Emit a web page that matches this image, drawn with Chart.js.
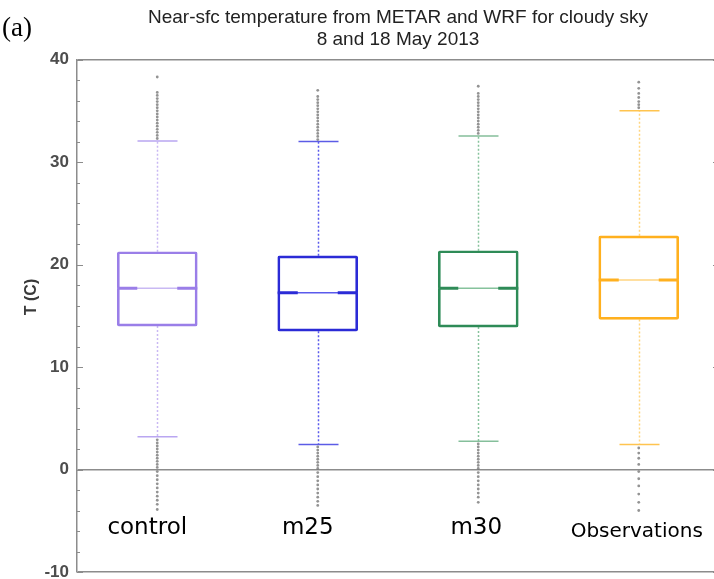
<!DOCTYPE html>
<html>
<head>
<meta charset="utf-8">
<script src="https://cdn.jsdelivr.net/npm/chart.js@4.4.1/dist/chart.umd.min.js"></script>
<style>
    html, body { margin: 0; padding: 0; background: #fff; overflow: hidden; }
    #wrap { position: relative; width: 724px; height: 579px; }
</style>
</head>
<body>
<div id="wrap"><canvas id="box"></canvas></div>
<script>
// ---------------------------------------------------------------------------- D A T A
const categories = ['control', 'm25', 'm30', 'Observations'];
const q1 = [14.0, 13.5, 13.9, 14.65];
const q3 = [21.25, 20.85, 21.35, 22.8];
const medians = [17.7, 17.25, 17.7, 18.5];
const whiskerLow = [3.2, 2.45, 2.75, 2.45];
const whiskerHigh = [32.05, 32.0, 32.55, 35.0];
// gray points beyond the whiskers
const outliersHigh = [
    [32.3, 32.6, 32.9, 33.2, 33.5, 33.8, 34.1, 34.4, 34.7, 35.0, 35.3, 35.6, 35.9, 36.2, 36.5, 36.8, 38.3],
    [32.2, 32.5, 32.8, 33.1, 33.4, 33.7, 34.0, 34.3, 34.6, 34.9, 35.2, 35.5, 35.8, 36.1, 36.4, 37.0],
    [32.8, 33.1, 33.4, 33.7, 34.0, 34.3, 34.6, 34.9, 35.2, 35.5, 35.8, 36.1, 36.4, 36.7, 37.4],
    [35.3, 35.6, 35.9, 36.3, 36.7, 37.2, 37.8]
];
const outliersLow = [
    [2.9, 2.6, 2.3, 2.0, 1.7, 1.4, 1.1, 0.8, 0.5, 0.2, -0.2, -0.6, -1.0, -1.4, -1.8, -2.2, -2.6, -3.0, -3.4, -3.9],
    [2.2, 1.9, 1.6, 1.3, 1.0, 0.7, 0.4, 0.1, -0.3, -0.7, -1.1, -1.5, -1.9, -2.3, -2.7, -3.1, -3.5],
    [2.5, 2.2, 1.9, 1.6, 1.3, 1.0, 0.7, 0.4, 0.1, -0.3, -0.7, -1.1, -1.5, -1.9, -2.3, -2.7, -3.2],
    [2.1, 1.6, 1.1, 0.5, -0.2, -0.9, -1.6, -2.4, -3.2, -4.0]
];

// ---------------------------------------------------------------------------- S T Y L E S
const boxColors     = ['#9a7ee8', '#2b2bd6', '#2e8b57', '#ffb01e'];
const whiskerColors = ['#c9b9f3', '#5a5aec', '#86c29c', '#ffd580'];
const capColors     = ['#b9a6f1', '#5c5ce6', '#85bf9b', '#ffc44f'];
const labelOffsets  = [-10, -10, -2, -2];
const labelFonts    = ['23px "DejaVu Sans"', '23px "DejaVu Sans"', '23px "DejaVu Sans"', '20px "DejaVu Sans"'];
const labelBase     = [534, 534, 534, 537];
const axisGray = '#8c8c8c';

const outlierPoints = [];
categories.forEach((c, i) => {
    outliersHigh[i].forEach(v => outlierPoints.push({x: c, y: v}));
    outliersLow[i].forEach(v => outlierPoints.push({x: c, y: v}));
});

// whiskers, caps, ticks, medians, texts
const boxPlugin = {
    id: 'boxExtras',
    beforeDatasetsDraw(chart) {
        const {ctx, chartArea, scales: {x, y}} = chart;
        ctx.save();
        // minor / major ticks, both sides, pointing inward
        ctx.strokeStyle = axisGray;
        ctx.lineWidth = 1;
        for (let v = -10; v <= 40; v += 2) {
            const py = Math.round(y.getPixelForValue(v)) + 0.5;
            const len = (v % 10 === 0) ? 6 : 3;
            ctx.beginPath();
            ctx.moveTo(chartArea.left, py); ctx.lineTo(chartArea.left + len, py);
            ctx.moveTo(chartArea.right, py); ctx.lineTo(chartArea.right - len, py);
            ctx.stroke();
        }
        // whiskers + caps
        categories.forEach((c, i) => {
            const cx = Math.round(x.getPixelForValue(i)) + 0.5;
            ctx.strokeStyle = whiskerColors[i];
            ctx.lineWidth = 1.5;
            ctx.setLineDash([2, 2]);
            ctx.beginPath();
            ctx.moveTo(cx, y.getPixelForValue(q3[i])); ctx.lineTo(cx, y.getPixelForValue(whiskerHigh[i]));
            ctx.moveTo(cx, y.getPixelForValue(q1[i])); ctx.lineTo(cx, y.getPixelForValue(whiskerLow[i]));
            ctx.stroke();
            ctx.setLineDash([]);
            ctx.strokeStyle = capColors[i];
            ctx.beginPath();
            [whiskerHigh[i], whiskerLow[i]].forEach(v => {
                const py = y.getPixelForValue(v);
                ctx.moveTo(cx - 20, py); ctx.lineTo(cx + 20, py);
            });
            ctx.stroke();
        });
        ctx.restore();
    },
    afterDatasetsDraw(chart) {
        const {ctx, chartArea, scales: {x, y}} = chart;
        ctx.save();
        categories.forEach((c, i) => {
            const cx = x.getPixelForValue(i);
            const py = y.getPixelForValue(medians[i]);
            // notch: light line in the middle, thick stubs at the box edges
            ctx.strokeStyle = whiskerColors[i];
            ctx.lineWidth = 1.5;
            ctx.beginPath();
            ctx.moveTo(cx - 40, py); ctx.lineTo(cx + 40, py);
            ctx.stroke();
            ctx.strokeStyle = boxColors[i];
            ctx.lineWidth = 3;
            ctx.beginPath();
            ctx.moveTo(cx - 40, py); ctx.lineTo(cx - 20, py);
            ctx.moveTo(cx + 20, py); ctx.lineTo(cx + 40, py);
            ctx.stroke();
            // category label inside the plot
            ctx.fillStyle = '#000';
            ctx.font = labelFonts[i];
            ctx.textAlign = 'center';
            ctx.textBaseline = 'alphabetic';
            ctx.fillText(c, cx + labelOffsets[i], labelBase[i]);
        });
        // y title
        ctx.save();
        ctx.translate(32, 297);
        ctx.rotate(-Math.PI / 2);
        ctx.fillStyle = '#3a3a3a';
        ctx.font = 'bold 16px "Liberation Sans"';
        ctx.textAlign = 'center';
        ctx.textBaseline = 'middle';
        ctx.fillText('T (C)', 0, 0);
        ctx.restore();
        // panel letter
        ctx.fillStyle = '#000';
        ctx.font = '27px "Liberation Serif"';
        ctx.textAlign = 'left';
        ctx.textBaseline = 'middle';
        ctx.fillText('(a)', 2, 29);
        ctx.restore();
    }
};

const ctx = document.getElementById('box').getContext('2d');
const myChart = new Chart(ctx, {
    type: 'bar',
    data: {
        labels: categories,
        datasets: [
            {
                type: 'bar',
                data: categories.map((c, i) => [q1[i], q3[i]]),
                backgroundColor: 'rgba(0,0,0,0)',
                borderColor: boxColors,
                borderWidth: 2,
                borderSkipped: false,
                borderRadius: 2,
                barThickness: 80,
                order: 2
            },
            {
                type: 'scatter',
                data: outlierPoints,
                pointRadius: 1.4,
                pointBorderWidth: 0,
                pointBackgroundColor: 'rgba(120,120,120,0.8)',
                order: 1
            }
        ]
    },
    options: {
        responsive: true,
        maintainAspectRatio: false,
        animation: false,
        layout: {
            padding: { left: 0, right: 5, top: 0, bottom: 7 }
        },
        plugins: {
            legend: { display: false },
            tooltip: { enabled: false },
            title: {
                display: true,
                fullSize: false,
                text: ['Near-sfc temperature from METAR and WRF for cloudy sky', '8 and 18 May 2013'],
                color: '#222',
                font: { family: '"Liberation Sans"', size: 19, weight: 'normal', lineHeight: 1.2 },
                padding: { top: 6, bottom: 8 }
            }
        },
        scales: {
            x: {
                type: 'category',
                display: false,
                offset: true
            },
            y: {
                min: -10,
                max: 40,
                afterFit(scale) {
                    scale.width = 77;
                    scale.paddingTop = 0;
                    scale.paddingBottom = 0;
                },
                ticks: {
                    stepSize: 10,
                    color: '#4d4d4d',
                    padding: 8,
                    font: { family: '"Liberation Sans"', size: 17, weight: 'bold' }
                },
                grid: {
                    drawTicks: false,
                    lineWidth: 1.5,
                    color: (c) => ([-10, 0, 40].includes(c.tick.value) ? axisGray : 'rgba(0,0,0,0)')
                },
                border: { display: true, color: axisGray, width: 1.5 }
            }
        }
    },
    plugins: [boxPlugin]
});
</script>
</body>
</html>
